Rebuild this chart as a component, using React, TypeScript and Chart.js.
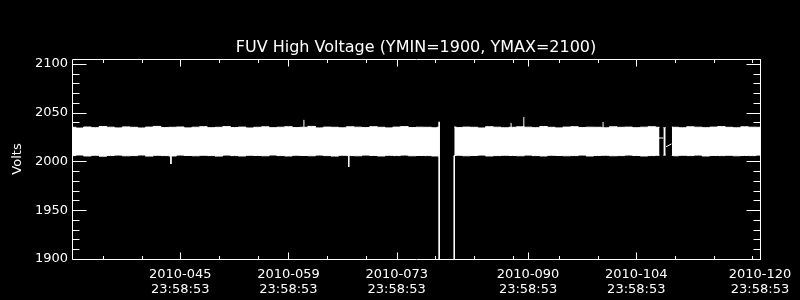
import React, { useEffect, useRef } from "react";
import { Chart, registerables } from "chart.js";

Chart.register(...registerables);

// ---- Data (x in day-of-year of 2010, offset of 23:58:53 implied) ----
const titleText = "FUV High Voltage (YMIN=1900, YMAX=2100)";
const yAxisTitle = "Volts";

const xMajorDays = [45, 59, 73, 90, 104, 120];
const xMajorDateLabels = ["2010-045", "2010-059", "2010-073", "2010-090", "2010-104", "2010-120"];
const xTimeLabel = "23:58:53";
const xMinorDays = [35, 40, 50, 55, 64, 69, 78, 83, 88, 94, 99, 109, 114, 119];

const yMajorTicks = [1900, 1950, 2000, 2050, 2100];
const yMinorTicks = [1910, 1920, 1930, 1940, 1960, 1970, 1980, 1990, 2010, 2020, 2030, 2040, 2060, 2070, 2080, 2090];

// envelope of the sampled HV signal (upper / lower edge), null = data gap
const bandDays = [
  31, 32, 33, 34, 35, 36, 37, 38, 39, 40,
  41, 42, 43, 44, 45, 46, 47, 48, 49, 50,
  51, 52, 53, 54, 55, 56, 57, 58, 59, 60,
  61, 62, 63, 64, 65, 66, 67, 68, 69, 70,
  71, 72, 73, 74, 75, 76, 77, 78, 78.5, 79.5,
  80.45, 81, 82, 83, 84, 85, 86, 87, 88, 89,
  90, 91, 92, 93, 94, 95, 96, 97, 98, 99,
  100, 101, 102, 103, 104, 105, 106, 107, 107.25, 107.5,
  107.8, 108.2, 108.6, 109, 110, 111, 112, 113, 114, 115,
  116, 117, 118, 119, 120,
];
const bandHigh = [
  2035.0, 2034.2, 2035.3, 2034.6, 2035.8, 2035.1, 2034.4, 2035.4, 2035.0, 2034.3,
  2035.2, 2035.9, 2034.7, 2035.0, 2035.3, 2034.4, 2035.1, 2035.6, 2034.6, 2035.0,
  2035.7, 2034.7, 2035.2, 2034.3, 2035.0, 2035.5, 2034.6, 2035.1, 2035.6, 2034.7,
  2035.0, 2035.9, 2034.4, 2035.2, 2035.0, 2034.5, 2035.5, 2035.1, 2034.7, 2035.6,
  2035.0, 2034.4, 2035.2, 2035.7, 2034.7, 2035.1, 2035.0, 2034.5, 2035.2, null,
  2035.3, 2034.7, 2035.2, 2035.0, 2034.3, 2035.6, 2035.1, 2034.5, 2035.0, 2035.5,
  2035.1, 2034.6, 2035.8, 2035.0, 2034.4, 2035.2, 2035.6, 2034.7, 2035.1, 2035.0,
  2034.5, 2035.5, 2035.0, 2035.2, 2034.6, 2035.1, 2035.6, 2035.0, null, 2034.6,
  2034.6, null, 2035.2, 2035.0, 2034.5, 2035.5, 2035.1, 2034.6, 2035.2, 2035.7,
  2035.0, 2034.5, 2035.5, 2035.1, 2035.0,
];
const bandLow = [
  2006.0, 2006.6, 2005.6, 2006.3, 2005.4, 2006.1, 2006.5, 2005.8, 2006.0, 2006.6,
  2005.5, 2006.3, 2006.0, 2005.6, 2006.5, 2006.1, 2005.8, 2006.3, 2006.0, 2005.5,
  2006.5, 2006.0, 2005.6, 2006.3, 2006.1, 2005.8, 2006.6, 2006.0, 2005.6, 2006.3,
  2006.1, 2005.8, 2006.5, 2006.0, 2005.5, 2006.3, 2006.0, 2005.8, 2006.5, 2006.1,
  2005.6, 2006.3, 2006.0, 2006.5, 2005.8, 2006.1, 2006.0, 2005.6, 2005.5, null,
  2006.0, 2006.3, 2005.8, 2006.1, 2006.5, 2005.6, 2006.0, 2006.3, 2006.1, 2005.8,
  2006.5, 2006.0, 2005.6, 2006.3, 2006.1, 2005.8, 2006.0, 2006.5, 2005.6, 2006.1,
  2006.3, 2005.8, 2006.0, 2006.5, 2006.1, 2005.6, 2006.0, 2006.3, null, 2006.4,
  2006.4, null, 2006.1, 2005.8, 2006.3, 2006.0, 2006.5, 2005.6, 2006.1, 2006.0,
  2006.3, 2005.8, 2006.1, 2006.0, 2006.5,
];

// isolated excursions: day, start value, end value
const spikeDays = [43.8, 61.0, 66.8, 78.5, 80.45, 87.8, 89.45, 99.7];
const spikeFrom = [2006, 2034, 2006, 2040.6, 2006, 2034, 2034, 2034];
const spikeTo = [1997.4, 2042.6, 1994.4, 1880, 1880, 2039.5, 2045.6, 2040.5];

// short fragments inside the second gap
const fragDays = [106.9, 107.5, 107.6, 107.85, 108.55];
const fragValues = [2024, 2024, null, 2015, 2018];

const FONT = "DejaVu Sans";

const axisBox = {
  id: "axisBox",
  beforeDraw(chart: any) {
    const { ctx, width, height } = chart;
    ctx.save();
    ctx.fillStyle = "#000";
    ctx.fillRect(0, 0, width, height);
    ctx.restore();
  },
  afterDraw(chart: any) {
    const { ctx, chartArea, scales } = chart;
    const L = Math.round(chartArea.left) + 0.5;
    const R = Math.round(chartArea.right) + 0.5;
    const T = Math.round(chartArea.top) + 0.5;
    const B = Math.round(chartArea.bottom) + 0.5;
    ctx.save();
    ctx.strokeStyle = "#fff";
    ctx.lineWidth = 1;
    ctx.beginPath();
    ctx.rect(L, T, R - L, B - T);
    const yT = (v: number, len: number) => {
      const p = Math.round(scales.y.getPixelForValue(v)) + 0.5;
      ctx.moveTo(L, p); ctx.lineTo(L + len, p);
      ctx.moveTo(R, p); ctx.lineTo(R - len, p);
    };
    const xT = (d: number, len: number) => {
      const p = Math.round(scales.x.getPixelForValue(d)) + 0.5;
      ctx.moveTo(p, B); ctx.lineTo(p, B - len);
      ctx.moveTo(p, T); ctx.lineTo(p, T + len);
    };
    yMajorTicks.forEach((v) => yT(v, 14));
    yMinorTicks.forEach((v) => yT(v, 7));
    xMajorDays.forEach((d) => xT(d, 7));
    xMinorDays.forEach((d) => xT(d, 3.5));
    ctx.stroke();
    ctx.restore();
  },
};

export default function App() {
  const ref = useRef<HTMLCanvasElement | null>(null);
  useEffect(() => {
    document.body.style.margin = "0";
    document.body.style.background = "#000";
    const band = (vals: (number | null)[]) => bandDays.map((d, i) => ({ x: d, y: vals[i] }));
    const spikes: any[] = [];
    spikeDays.forEach((d, i) => {
      spikes.push({ x: d, y: spikeFrom[i] }, { x: d, y: spikeTo[i] }, { x: d, y: null });
    });
    const frags = fragDays.map((d, i) => ({ x: d, y: fragValues[i] }));
    const chart = new Chart(ref.current as HTMLCanvasElement, {
      type: "line",
      data: {
        datasets: [
          { data: band(bandHigh), borderColor: "#fff", borderWidth: 1, pointRadius: 0, fill: false, spanGaps: false, stepped: "middle" },
          { data: band(bandLow), borderColor: "#fff", borderWidth: 1, pointRadius: 0, fill: "-1", backgroundColor: "#fff", spanGaps: false, stepped: "middle" },
          { data: spikes, borderColor: "#fff", borderWidth: 1, pointRadius: 0, fill: false, spanGaps: false },
          { data: frags, borderColor: "#fff", borderWidth: 1, pointRadius: 0, fill: false, spanGaps: false },
        ] as any,
      },
      options: {
        animation: false,
        responsive: false,
        events: [],
        layout: { padding: { left: 0, right: 40, top: 0, bottom: 0 } },
        plugins: {
          legend: { display: false },
          tooltip: { enabled: false },
          title: {
            display: true,
            text: titleText,
            color: "#fff",
            fullSize: false,
            font: { family: FONT, size: 16, weight: "normal", lineHeight: 1.2 },
            padding: { top: 38, bottom: 1.8 },
          },
        } as any,
        scales: {
          x: {
            type: "linear",
            min: 31,
            max: 120,
            grid: { display: false, drawTicks: false },
            border: { display: false },
            afterBuildTicks: (s: any) => { s.ticks = xMajorDays.map((v) => ({ value: v })); },
            afterFit: (s: any) => { s.height = 41; },
            ticks: {
              color: "#fff",
              font: { family: FONT, size: 13, lineHeight: 1.15 },
              padding: 8,
              autoSkip: false,
              maxRotation: 0,
              callback: (v: any) => {
                const i = xMajorDays.indexOf(Number(v));
                return i >= 0 ? [xMajorDateLabels[i], xTimeLabel] : "";
              },
            },
          },
          y: {
            min: 1900,
            max: 2105,
            grid: { display: false, drawTicks: false },
            border: { display: false },
            afterBuildTicks: (s: any) => { s.ticks = yMajorTicks.map((v) => ({ value: v })); },
            afterFit: (s: any) => { s.width = 72; },
            title: {
              display: true,
              text: yAxisTitle,
              color: "#fff",
              font: { family: FONT, size: 13, lineHeight: 1.2 },
              padding: { top: 10, bottom: 0 },
            },
            ticks: {
              color: "#fff",
              font: { family: FONT, size: 13 },
              padding: 4,
              callback: (v: any) => String(v),
            },
          },
        } as any,
      },
      plugins: [axisBox],
    });
    return () => chart.destroy();
  }, []);
  return (
    <div style={{ position: "absolute", left: 0, top: 0, width: 800, height: 300, background: "#000" }}>
      <canvas ref={ref} width={800} height={300} style={{ display: "block" }} />
    </div>
  );
}
